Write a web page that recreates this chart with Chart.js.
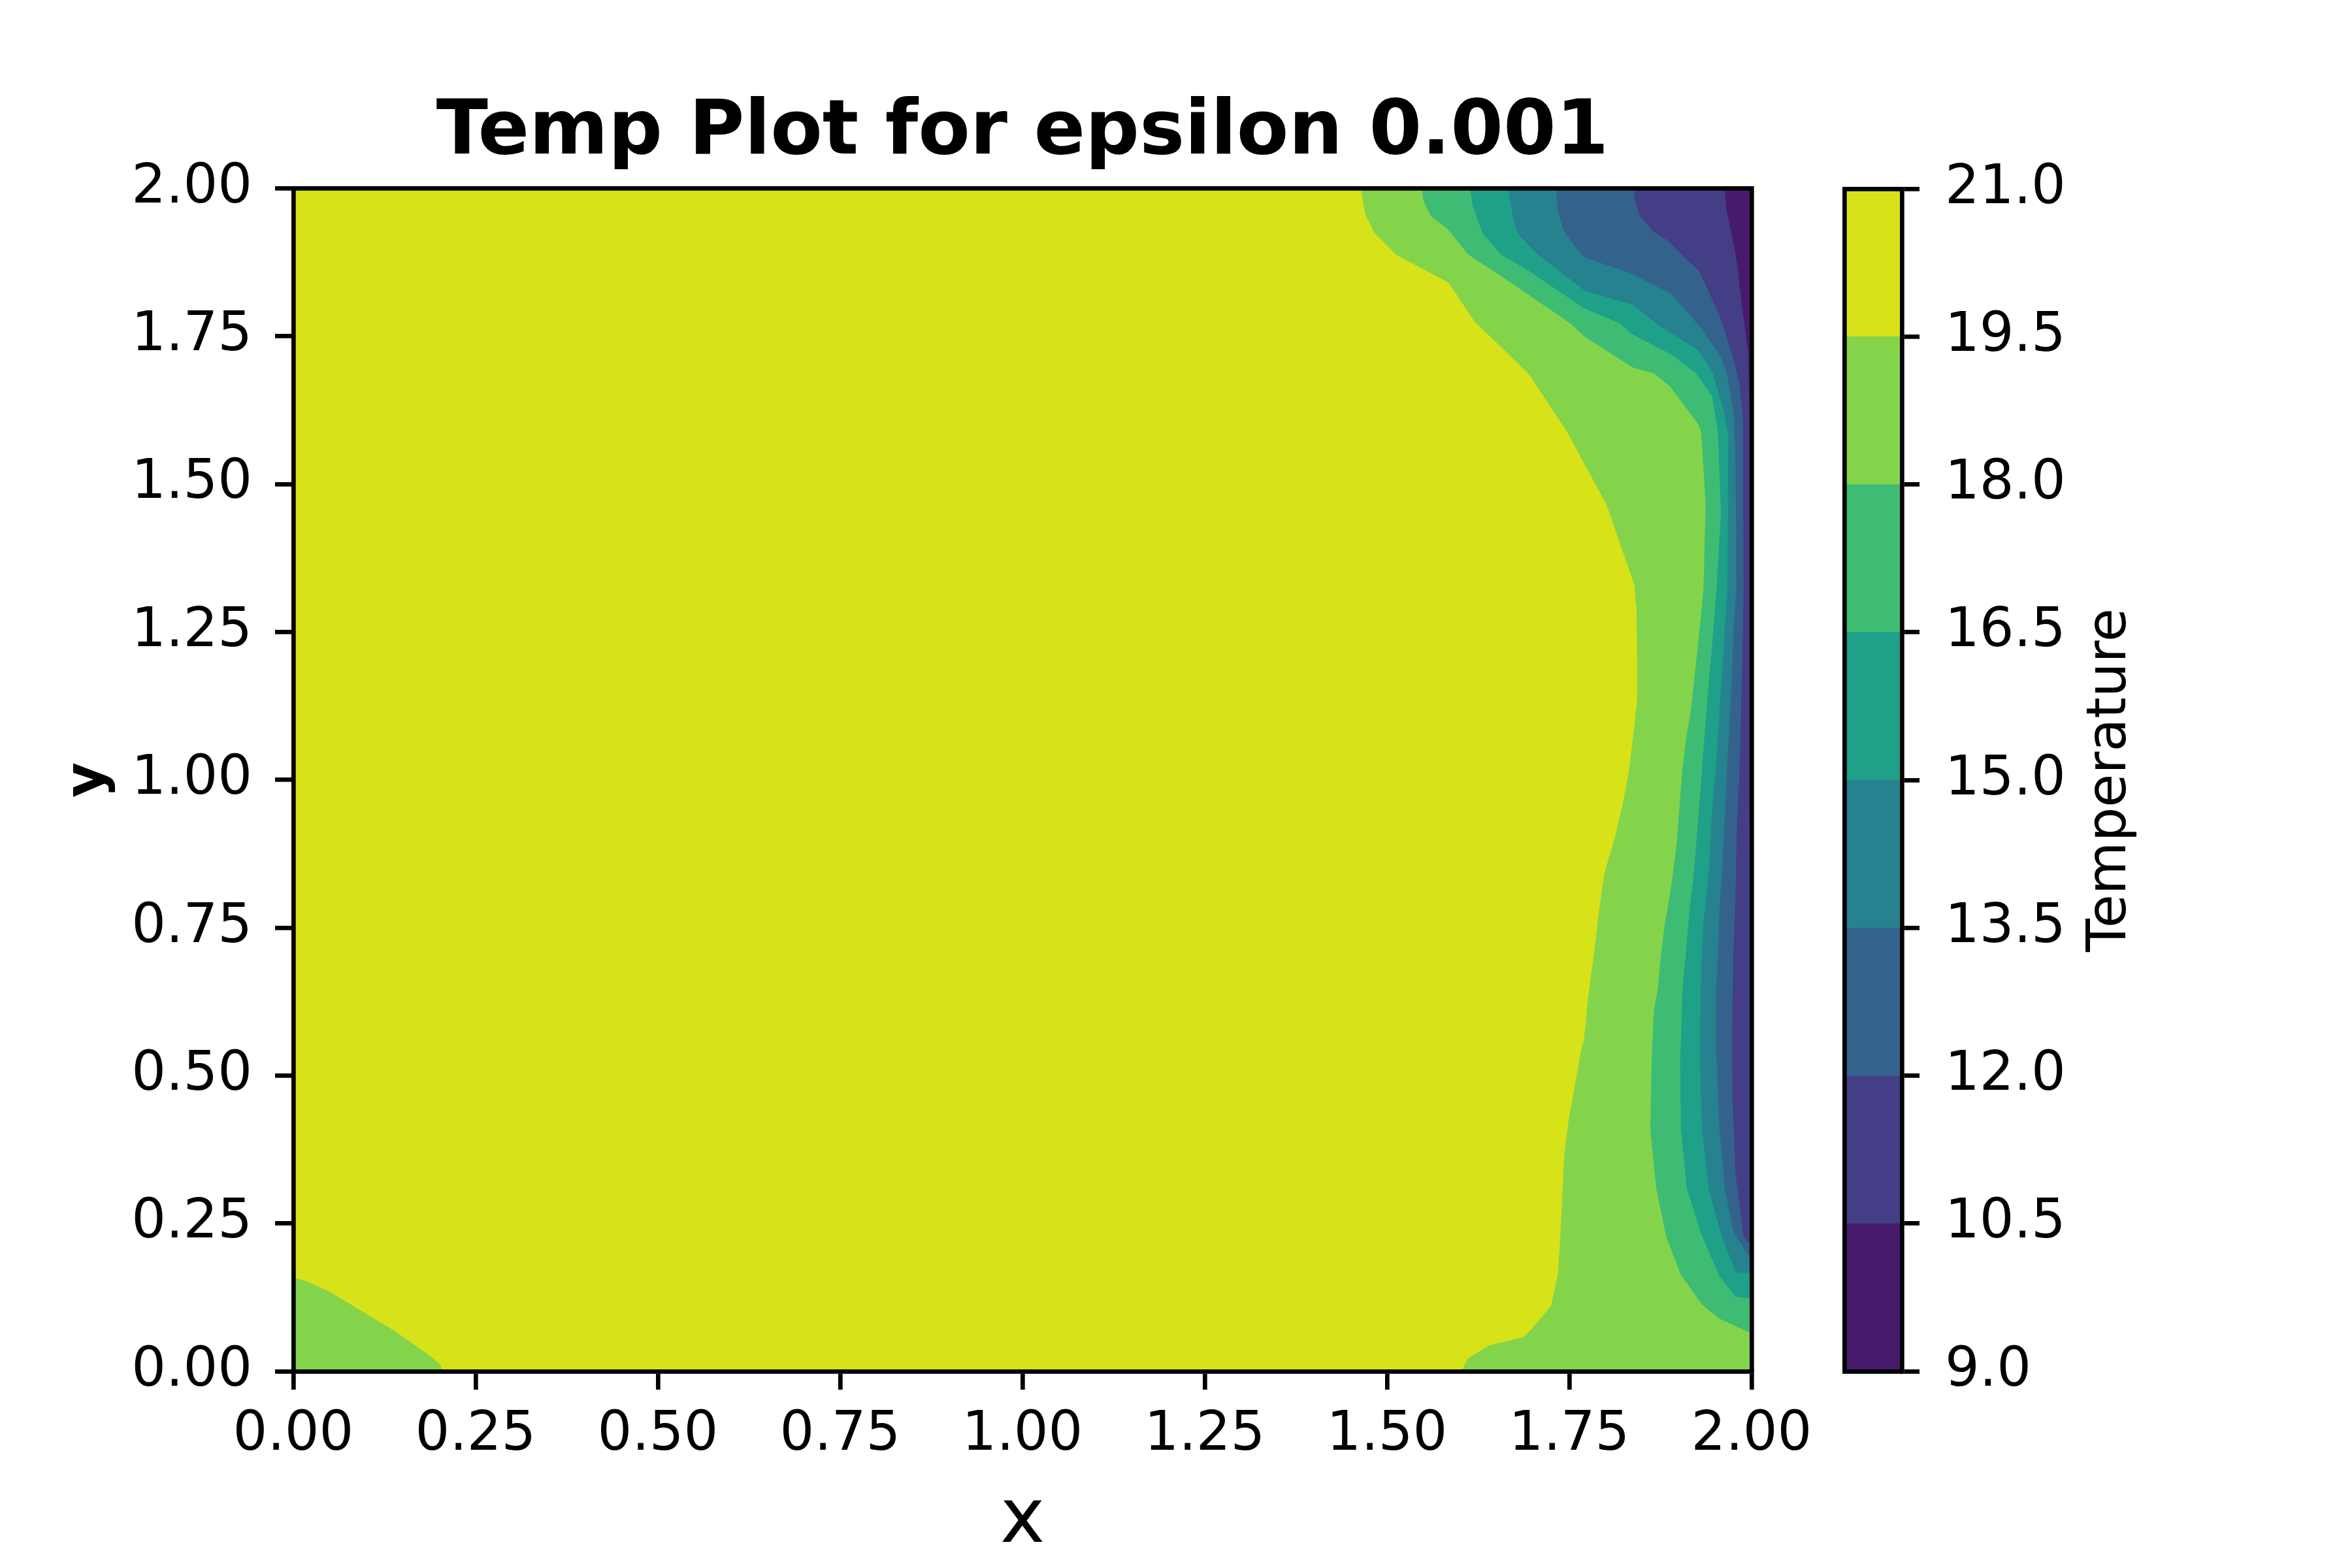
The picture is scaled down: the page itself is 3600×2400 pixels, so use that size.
<!DOCTYPE html>
<html>
<head>
<meta charset="utf-8">
<script src="https://cdn.jsdelivr.net/npm/chart.js@4.4.1/dist/chart.umd.min.js"></script>
<style>
html, body { margin: 0; padding: 0; background: #ffffff; }
#wrap { position: relative; width: 3600px; height: 2400px; background: #ffffff; }
#wrap canvas { position: absolute; left: 0; top: 0; }
</style>
</head>
<body>
<div id="wrap">
  <canvas id="main" width="3600" height="2400"></canvas>
  <canvas id="cbar" width="3600" height="2400"></canvas>
</div>
<script>
// ---------------- DATA ----------------
const chartTitle = 'Temp Plot for epsilon 0.001';
const xLabel = 'x';
const yLabel = 'y';
const cbarLabel = 'Temperature';

// contour levels (colorbar ticks) and band colours (viridis)
const levels = [9.0, 10.5, 12.0, 13.5, 15.0, 16.5, 18.0, 19.5, 21.0];
const bandColors = ['#481a6c', '#433e85', '#33638d', '#26828e', '#1fa088', '#3fbc73', '#84d44b', '#d8e219'];

// axis ranges / ticks
const xRange = [0, 2];
const yRange = [0, 2];
const axisStep = 0.25;

// whole domain (band 19.5 - 21)
const domain = [[0, 0], [2, 0], [2, 2], [0, 2]];

// region T < 19.5 (right side)
const region19_5 = [[1.464,2.0],[1.470,1.956],[1.482,1.926],[1.513,1.887],[1.584,1.841],[1.621,1.773],[1.657,1.731],[1.695,1.685],[1.747,1.588],[1.801,1.465],[1.839,1.330],[1.842,1.290],[1.843,1.206],[1.843,1.137],[1.838,1.078],[1.832,1.018],[1.825,0.969],[1.813,0.905],[1.798,0.841],[1.791,0.782],[1.784,0.708],[1.776,0.634],[1.770,0.560],[1.766,0.542],[1.749,0.424],[1.743,0.365],[1.737,0.212],[1.734,0.163],[1.725,0.111],[1.698,0.071],[1.687,0.058],[1.640,0.044],[1.611,0.022],[1.602,0.0],[2.0,0.0],[2.0,2.0]];

// region T < 19.5 (bottom-left corner)
const corner19_5 = [[0,0.159],[0.019,0.152],[0.049,0.135],[0.079,0.113],[0.108,0.091],[0.138,0.069],[0.168,0.043],[0.189,0.025],[0.201,0.012],[0.205,0.0],[0,0]];

// region T < 18
const region18 = [[1.548,2.0],[1.550,1.978],[1.560,1.953],[1.584,1.930],[1.611,1.888],[1.674,1.837],[1.752,1.771],[1.771,1.749],[1.837,1.697],[1.866,1.687],[1.888,1.665],[1.927,1.601],[1.931,1.586],[1.937,1.465],[1.934,1.324],[1.932,1.295],[1.927,1.235],[1.921,1.166],[1.916,1.112],[1.910,1.068],[1.905,1.018],[1.902,0.969],[1.897,0.890],[1.891,0.831],[1.886,0.792],[1.881,0.757],[1.876,0.708],[1.871,0.644],[1.866,0.609],[1.863,0.532],[1.861,0.409],[1.869,0.310],[1.883,0.227],[1.903,0.163],[1.932,0.113],[1.956,0.089],[2.0,0.064],[2.0,2.0]];

// region T < 16.5
const region16_5 = [[1.614,2.0],[1.618,1.968],[1.631,1.924],[1.657,1.887],[1.689,1.865],[1.769,1.798],[1.820,1.771],[1.835,1.754],[1.890,1.719],[1.924,1.687],[1.946,1.648],[1.954,1.584],[1.958,1.450],[1.952,1.324],[1.949,1.275],[1.944,1.201],[1.939,1.127],[1.934,1.053],[1.929,0.969],[1.924,0.890],[1.920,0.831],[1.915,0.782],[1.910,0.708],[1.905,0.644],[1.903,0.551],[1.902,0.532],[1.903,0.409],[1.911,0.310],[1.931,0.232],[1.955,0.163],[1.978,0.126],[2.0,0.123],[2.0,2.0]];

// region T < 15
const region15 = [[1.666,2.0],[1.672,1.956],[1.679,1.924],[1.706,1.889],[1.771,1.827],[1.837,1.803],[1.873,1.768],[1.927,1.726],[1.946,1.690],[1.961,1.628],[1.968,1.584],[1.967,1.324],[1.963,1.250],[1.958,1.152],[1.954,1.078],[1.950,1.009],[1.945,0.930],[1.942,0.856],[1.938,0.806],[1.934,0.757],[1.931,0.683],[1.929,0.551],[1.929,0.532],[1.932,0.409],[1.941,0.310],[1.958,0.232],[1.978,0.168],[2.0,0.165],[2.0,2.0]];

// region T < 13.5
const region13_5 = [[1.732,2.0],[1.734,1.961],[1.743,1.926],[1.769,1.884],[1.835,1.856],[1.890,1.821],[1.929,1.766],[1.956,1.719],[1.966,1.687],[1.975,1.623],[1.978,1.549],[1.979,1.324],[1.975,1.250],[1.973,1.176],[1.970,1.102],[1.966,1.009],[1.963,0.930],[1.960,0.856],[1.957,0.806],[1.954,0.708],[1.951,0.634],[1.951,0.551],[1.952,0.532],[1.956,0.409],[1.963,0.310],[1.975,0.237],[2.0,0.187],[2.0,2.0]];

// region T < 12
const region12 = [[1.839,2.0],[1.840,1.978],[1.847,1.953],[1.866,1.926],[1.886,1.911],[1.907,1.884],[1.927,1.862],[1.956,1.786],[1.975,1.712],[1.983,1.672],[1.988,1.613],[1.989,1.324],[1.988,1.250],[1.985,1.088],[1.983,1.004],[1.980,0.930],[1.978,0.806],[1.975,0.708],[1.973,0.551],[1.974,0.458],[1.978,0.335],[1.989,0.227],[2.0,0.212],[2.0,2.0]];

// region T < 10.5
const region10_5 = [[1.963,2.0],[1.966,1.961],[1.975,1.909],[1.980,1.874],[1.985,1.820],[1.990,1.771],[1.995,1.726],[1.997,1.613],[1.997,1.0],[1.998,0.5],[2.0,0.26],[2.0,2.0]];

// ---------------- STYLE ----------------
const FONT = 'DejaVu Sans';
const SPINE = 6.7;
const TICK_FONT = { family: FONT, size: 83 };
const BORDER = { display: true, color: '#000', width: SPINE, z: 1 };

// layers drawn bottom -> top
const layers = [
  { pts: domain,     color: bandColors[7] },
  { pts: region19_5, color: bandColors[6] },
  { pts: corner19_5, color: bandColors[6] },
  { pts: region18,   color: bandColors[5] },
  { pts: region16_5, color: bandColors[4] },
  { pts: region15,   color: bandColors[3] },
  { pts: region13_5, color: bandColors[2] },
  { pts: region12,   color: bandColors[1] },
  { pts: region10_5, color: bandColors[0] }
];

const mainDatasets = layers.map((l, i) => ({
  data: l.pts.map(([x, y]) => ({ x, y })),
  showLine: true,
  fill: 'shape',
  backgroundColor: l.color,
  borderColor: l.color,
  borderWidth: 0,
  pointRadius: 0,
  pointHoverRadius: 0,
  tension: 0,
  order: layers.length - i
}));

function spineAxis(pos, sizeProp) {
  return {
    type: 'linear',
    position: pos,
    min: 0, max: 2,
    display: true,
    ticks: { display: false },
    grid: { display: false },
    border: BORDER,
    afterFit: s => { s[sizeProp] = 0; }
  };
}

new Chart(document.getElementById('main'), {
  type: 'scatter',
  data: { datasets: mainDatasets },
  options: {
    responsive: false,
    devicePixelRatio: 1,
    animation: false,
    events: [],
    layout: { padding: { top: 135, right: 919, left: 0, bottom: 0 } },
    plugins: {
      legend: { display: false },
      tooltip: { enabled: false },
      title: {
        display: true,
        text: chartTitle,
        fullSize: false,
        color: '#000',
        font: { family: FONT, size: 116, weight: 'bold' },
        padding: { top: 0, bottom: 14 }
      }
    },
    scales: {
      x: {
        type: 'linear', position: 'bottom',
        min: xRange[0], max: xRange[1],
        ticks: { stepSize: axisStep, callback: v => Number(v).toFixed(2), font: TICK_FONT, color: '#000', padding: 21, maxRotation: 0, autoSkip: false },
        grid: { drawOnChartArea: false, drawTicks: true, tickLength: 28, color: '#000', lineWidth: SPINE },
        border: BORDER,
        title: { display: true, text: xLabel, color: '#000', font: { family: FONT, size: 116 }, padding: { top: 0, bottom: 1 } },
        afterFit: s => { s.height = 301; }
      },
      y: {
        type: 'linear', position: 'left',
        min: yRange[0], max: yRange[1],
        ticks: { stepSize: axisStep, callback: v => Number(v).toFixed(2), font: TICK_FONT, color: '#000', padding: 35, autoSkip: false },
        grid: { drawOnChartArea: false, drawTicks: true, tickLength: 28, color: '#000', lineWidth: SPINE },
        border: BORDER,
        title: { display: true, text: yLabel, color: '#000', font: { family: FONT, size: 83, weight: 'bold' }, padding: { top: 87, bottom: 0 } },
        afterFit: s => { s.width = 449; }
      },
      xTop: spineAxis('top', 'height'),
      yRight: spineAxis('right', 'width')
    }
  }
});

// ---------------- COLORBAR ----------------
const cbarTitlePlugin = {
  id: 'cbarTitle',
  afterDraw(chart) {
    const { ctx, chartArea } = chart;
    ctx.save();
    ctx.font = '83px "' + FONT + '"';
    ctx.fillStyle = '#000';
    ctx.textAlign = 'center';
    ctx.textBaseline = 'alphabetic';
    ctx.translate(chartArea.right + 342, (chartArea.top + chartArea.bottom) / 2);
    ctx.rotate(-Math.PI / 2);
    ctx.fillText(cbarLabel, 0, 0);
    ctx.restore();
  }
};

new Chart(document.getElementById('cbar'), {
  type: 'bar',
  data: {
    labels: [cbarLabel],
    datasets: bandColors.map((c, i) => ({
      data: [[levels[i], levels[i + 1]]],
      backgroundColor: c,
      borderWidth: 0,
      barPercentage: 1,
      categoryPercentage: 1
    }))
  },
  options: {
    responsive: false,
    devicePixelRatio: 1,
    animation: false,
    events: [],
    layout: { padding: { left: 2823, top: 289, right: 0, bottom: 0 } },
    plugins: { legend: { display: false }, tooltip: { enabled: false }, title: { display: false } },
    scales: {
      x: {
        stacked: true,
        position: 'bottom',
        ticks: { display: false },
        grid: { display: false },
        border: BORDER,
        afterFit: s => { s.height = 301; }
      },
      y: {
        type: 'linear', position: 'right',
        min: levels[0], max: levels[levels.length - 1],
        ticks: { stepSize: 1.5, callback: v => Number(v).toFixed(1), font: TICK_FONT, color: '#000', padding: 39, autoSkip: false },
        grid: { drawOnChartArea: false, drawTicks: true, tickLength: 27, color: '#000', lineWidth: SPINE },
        border: BORDER,
        afterFit: s => { s.width = 689; }
      },
      cTop: spineAxis('top', 'height'),
      cLeft: spineAxis('left', 'width')
    }
  },
  plugins: [cbarTitlePlugin]
});
</script>
</body>
</html>
